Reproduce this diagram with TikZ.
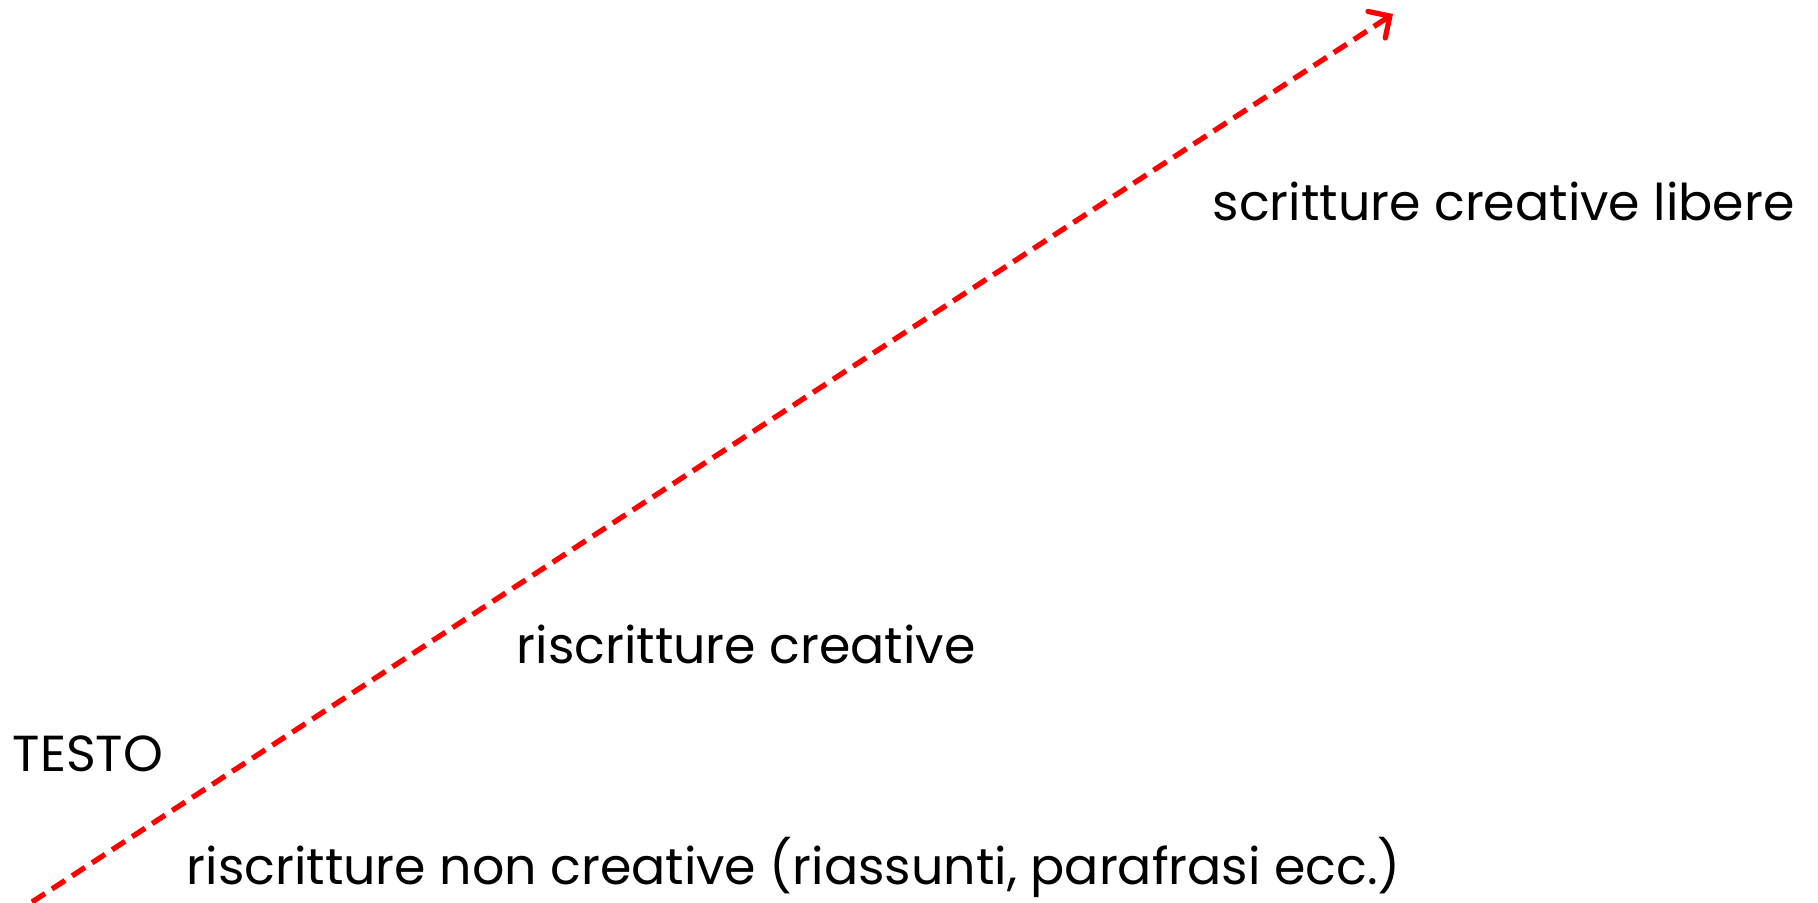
\documentclass[tikz,border=0pt]{standalone}
\usepackage{fontspec}
\setmainfont{Poppins}
\usepackage{tikz}
\usetikzlibrary{arrows.meta}

\begin{document}
\begin{tikzpicture}[x=0.01cm,y=-0.01cm]
  \tikzstyle{every node}=[inner sep=0pt,font=\fontsize{14.4}{17}\selectfont]
  \tikzstyle{via}=[draw=red,line width=1.5pt,dash pattern=on 4.4pt off 2.4pt,
    -{Straight Barb[length=4.5pt,width=9pt,line cap=round]}]
  \useasboundingbox (0,0) rectangle (1818,902);
  % endpoints of the arrow
  \coordinate (start) at (32,902);
  \coordinate (goal) at (1393,14);
  \draw[via] (start) -- (goal);
  % labels
  \node[anchor=base west] (testo) at (12,771) {TESTO};
  \node[anchor=base west] (noncreative) at (186,884) {riscritture non creative (riassunti, parafrasi ecc.)};
  \node[anchor=base west] (creative) at (516,663) {riscritture creative};
  \node[anchor=base west] (libere) at (1212,220) {scritture creative libere};
\end{tikzpicture}
\end{document}
